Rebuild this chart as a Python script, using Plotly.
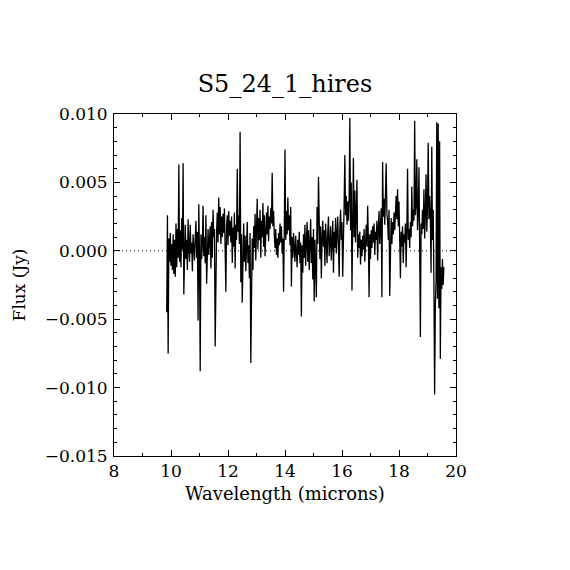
import plotly.graph_objs as go

# spectrum S5_24_1_hires, flux in mJy, one row per 0.25 micron
wave_start = 9.85
wave_step = 0.025
flux_mjy = [
    -4.5, 2.6, -7.5, 0.9, -0.8, 1.3, -1.1, 0.5, -1.4, 1.2,
    -1.7, 0.8, -1.9, 2.0, -1.2, 1.6, -0.5, 6.3, -0.8, 1.5,
    -1.2, 2.4, 0.1, 6.4, -3.2, 0.5, 1.9, -0.6, 0.8, -1.4,
    2.3, 0.2, -0.8, 1.9, -0.2, 0.6, -1.5, 1.2, 0.3, -0.7,
    0.9, 2.2, -0.5, 1.4, -5.1, 3.4, -0.3, -8.8, 1.2, -0.6,
    0.5, 3.3, -0.4, 1.0, -0.9, 2.6, -2.4, 0.8, 1.6, -0.3,
    0.7, 1.8, -1.3, 2.1, -0.5, 3.0, 1.0, 1.6, -7.0, 0.2,
    1.5, 2.8, 0.6, 3.9, 1.2, 3.2, 0.5, 2.5, 1.0, 2.7,
    1.3, 3.1, 0.2, -3.0, 1.8, 2.6, 0.4, 2.9, 1.1, 2.2,
    0.6, 2.5, -0.9, 1.7, 0.3, 2.8, -1.3, 1.9, 0.8, 6.0,
    1.4, 2.6, 0.5, 8.7, -2.3, 1.2, -3.8, 0.7, 2.0, -0.8,
    1.1, -1.5, 0.6, 2.1, -0.9, 0.4, -2.0, 1.3, -8.2, -0.6,
    0.9, -1.4, 1.8, 0.2, 2.7, -0.7, 1.5, 3.8, 0.1, 2.4,
    0.8, 3.0, -0.5, 2.2, 1.0, 3.5, 0.3, 2.6, -0.4, 1.9,
    2.8, 1.2, 3.3, 0.7, 2.5, 1.6, 3.1, 2.0, 5.7, 1.8,
    2.9, 1.1, 0.2, 1.6, -0.3, 0.9, -0.5, 1.3, 0.4, 2.0,
    0.6, 1.8, -0.2, 0.9, -3.0, 1.4, 7.4, 0.8, 2.9, 1.2,
    3.9, 1.5, 2.6, 0.4, 3.2, -2.6, 1.0, -0.5, 1.3, 0.2,
    -0.8, 1.1, 0.3, -1.2, 0.8, -0.3, 1.4, -0.9, 0.6, -4.8,
    0.4, -1.6, 1.2, -0.5, 1.9, -1.1, 0.7, 2.1, -0.8, 1.5,
    -1.4, 0.6, 2.3, -0.9, 1.0, -2.1, 1.6, -3.7, 0.8, -1.0,
    -3.4, 3.2, 0.5, 5.4, 1.2, -0.6, 1.8, -2.0, 0.9, 2.2,
    0.3, 1.5, -1.1, 2.0, 0.7, -0.9, 1.3, 2.5, -0.4, 1.0,
    1.8, -0.7, 0.9, 2.2, -1.6, 1.4, 0.2, 2.4, -0.2, 1.1,
    2.5, 0.4, -1.9, 1.7, 3.0, 0.8, 2.1, -1.9, 2.8, 3.4,
    7.0, 2.6, 4.0, 1.9, 3.6, 2.2, 3.9, 9.7, 1.5, 5.0,
    -2.9, 3.1, 6.8, 1.0, 4.4, 0.6, 2.3, 5.2, -0.5, 1.2,
    0.2, 1.4, -1.0, 0.8, -0.4, 1.1, 0.1, 1.6, -0.8, 0.7,
    1.9, 0.3, 3.3, 0.9, -3.4, 1.2, -0.6, 1.5, 0.2, 1.8,
    0.6, 2.0, -0.3, 1.4, 0.8, 2.2, -0.7, 1.7, 2.9, 0.5,
    1.6, 3.1, -3.4, 6.5, 2.5, 3.8, 1.9, 4.0, 6.4, 2.7,
    2.2, 0.8, 3.0, -3.3, 1.6, 2.4, 0.5, 2.1, 1.2, 2.8,
    1.5, 3.2, 4.0, 2.3, 4.5, 1.8, 3.6, 0.9, -2.0, 1.4,
    0.3, 1.8, -0.9, 1.2, 0.6, 2.0, -1.2, 1.5, 6.0, 0.8,
    1.6, 0.2, 2.1, 1.0, 4.7, 1.8, 3.0, 2.2, 9.5, 2.6,
    3.4, 6.7, 1.5, 2.8, 6.1, 0.5, -6.3, 2.0, 1.2, 3.0,
    1.6, 4.5, 0.9, 2.7, 5.6, 1.4, 3.2, 7.9, 2.3, 4.0,
    2.4, -1.6, 7.6, 0.8, 3.0, -2.4, -10.5, -4.0, -2.2, 9.4,
    -3.5, 9.3, -4.2, 8.0, -7.9, -1.2, -2.8, -0.6, -2.5, -1.2,
]

wavelength = [wave_start + wave_step * i for i in range(len(flux_mjy))]
flux = [f / 1000.0 for f in flux_mjy]

xticks = [8, 10, 12, 14, 16, 18, 20]
yticks = [-0.015, -0.010, -0.005, 0.000, 0.005, 0.010]
ytick_text = ["\u22120.015", "\u22120.010", "\u22120.005", "0.000", "0.005", "0.010"]

font_name = "DejaVu Serif"

fig = go.Figure()
fig.add_hline(y=0, line=dict(color="black", width=1, dash="1px,3px"), layer="below")
fig.add_trace(go.Scatter(x=wavelength, y=flux, mode="lines",
                         line=dict(color="black", width=1.3), showlegend=False))

axis_style = dict(showgrid=False, zeroline=False, showline=True, linecolor="black", linewidth=1,
                  mirror="allticks", ticks="inside", ticklen=6, tickcolor="black",
                  tickfont=dict(family=font_name, size=17, color="black"))

fig.update_xaxes(axis_style, range=[8, 20], tickvals=xticks,
                 minor=dict(dtick=1, ticks="inside", ticklen=3, tickcolor="black"),
                 title=dict(text="Wavelength (microns)", font=dict(family=font_name, size=18, color="black"),
                            standoff=6))
fig.update_yaxes(axis_style, range=[-0.015, 0.010], tickvals=yticks, ticktext=ytick_text,
                 ticklabelstandoff=2,
                 minor=dict(dtick=0.001, ticks="inside", ticklen=3, tickcolor="black"),
                 title=dict(text="Flux (Jy)", font=dict(family=font_name, size=17, color="black"),
                            standoff=14))

# the page puts the figure 8px in from the top-left corner
fig.update_layout(
    width=570, height=570,
    margin=dict(l=106, r=122, t=106, b=122),
    paper_bgcolor="white", plot_bgcolor="white",
    title=dict(text="S5_24_1_hires", x=(285 - 8) / 570, xanchor="center", y=1 - 76 / 570, yanchor="middle",
               font=dict(family=font_name, size=24, color="black")),
)

fig.write_html("out.html")
